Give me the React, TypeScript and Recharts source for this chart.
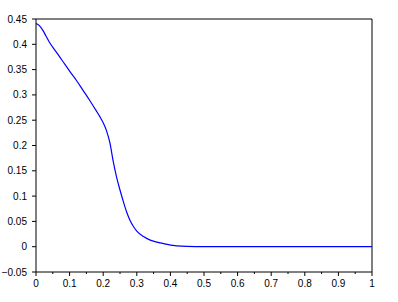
import React from "react";
import { LineChart, Line, XAxis, YAxis, ReferenceLine } from "recharts";

const xValues = [0, 0.01, 0.02, 0.03, 0.04, 0.06, 0.08, 0.1, 0.12, 0.14, 0.16, 0.18, 0.19, 0.2, 0.21, 0.22, 0.23, 0.24, 0.25, 0.26, 0.27, 0.28, 0.29, 0.3, 0.32, 0.34, 0.36, 0.38, 0.4, 0.42, 0.45, 0.5, 0.6, 0.7, 0.8, 0.9, 1];
const yValues = [0.441, 0.437, 0.428, 0.416, 0.404, 0.385, 0.366, 0.347, 0.329, 0.309, 0.289, 0.268, 0.257, 0.245, 0.229, 0.205, 0.168, 0.137, 0.112, 0.089, 0.068, 0.052, 0.040, 0.031, 0.020, 0.013, 0.009, 0.006, 0.003, 0.0015, 0.0005, 0, 0, 0, 0, 0, 0];

const xTicks = [0, 0.05, 0.1, 0.15, 0.2, 0.25, 0.3, 0.35, 0.4, 0.45, 0.5, 0.55, 0.6, 0.65, 0.7, 0.75, 0.8, 0.85, 0.9, 0.95, 1];
const xMajorLabels = ["0", "0.1", "0.2", "0.3", "0.4", "0.5", "0.6", "0.7", "0.8", "0.9", "1"];
const yTicks = [-0.05, 0, 0.05, 0.1, 0.15, 0.2, 0.25, 0.3, 0.35, 0.4, 0.45];
const yLabels = ["\u22120.05", "0", "0.05", "0.1", "0.15", "0.2", "0.25", "0.3", "0.35", "0.4", "0.45"];

const data = xValues.map((x, i) => ({ x, y: yValues[i] }));
const FONT = "'Liberation Sans', Arial, Helvetica, sans-serif";

const XTick = (props: any) => {
  const { x, y, index } = props;
  const major = index % 2 === 0;
  return (
    <g>
      <line x1={x} x2={x} y1={y} y2={y + (major ? 4 : 2)} stroke="#000" strokeWidth={1} />
      {major && (
        <text x={x} y={y + 15} textAnchor="middle" fontSize={10} fontFamily={FONT} fill="#000">
          {xMajorLabels[index / 2]}
        </text>
      )}
    </g>
  );
};

const YTick = (props: any) => {
  const { x, y, index } = props;
  return (
    <g>
      <line x1={x - 4} x2={x} y1={y} y2={y} stroke="#000" strokeWidth={1} />
      <text x={x - 9} y={y + 3.5} textAnchor="end" fontSize={10} fontFamily={FONT} fill="#000">
        {yLabels[index]}
      </text>
    </g>
  );
};

export default function App() {
  return (
    <div style={{ position: "absolute", left: 0, top: 0, width: 398, height: 302, background: "#fff" }}>
      <LineChart width={398} height={302} data={data} margin={{ top: 19, right: 26, left: 6, bottom: 10 }}>
        <XAxis
          dataKey="x"
          type="number"
          domain={[0, 1]}
          ticks={xTicks}
          interval={0}
          tickSize={0}
          tickMargin={0}
          tickLine={false}
          tick={<XTick />}
          height={20}
          axisLine={{ stroke: "#000", strokeWidth: 1 }}
        />
        <YAxis
          type="number"
          domain={[-0.05, 0.45]}
          ticks={yTicks}
          interval={0}
          tickSize={0}
          tickMargin={0}
          tickLine={false}
          tick={<YTick />}
          width={30}
          axisLine={{ stroke: "#000", strokeWidth: 1 }}
        />
        <ReferenceLine y={0.45} stroke="#000" strokeWidth={1} ifOverflow="extendDomain" />
        <ReferenceLine x={1} stroke="#000" strokeWidth={1} ifOverflow="extendDomain" />
        <Line type="monotone" dataKey="y" stroke="#0000ff" strokeWidth={1.2} dot={false} isAnimationActive={false} />
      </LineChart>
    </div>
  );
}
